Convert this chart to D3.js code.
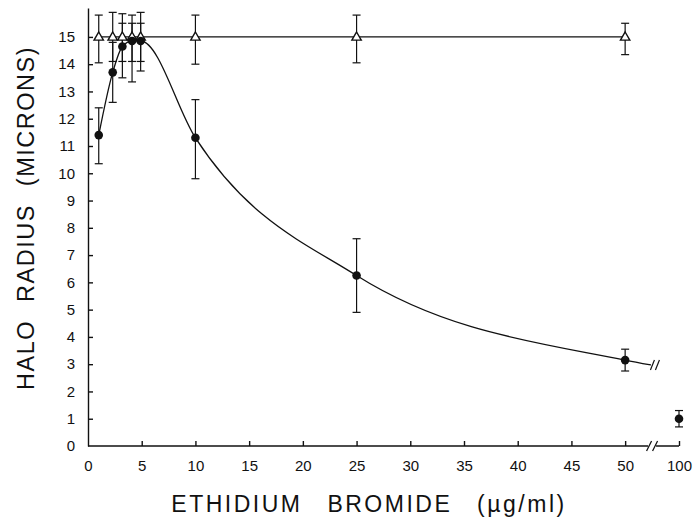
<!DOCTYPE html>
<html>
<head>
<meta charset="utf-8">
<script src="https://cdn.jsdelivr.net/npm/d3@7"></script>
<style>
  body { margin: 0; background: #fff; }
  text { font-family: "Liberation Sans", Arial, sans-serif; fill: #111; }
</style>
</head>
<body>
<svg id="chart" width="693" height="521"></svg>
<script>
// open triangles (control)
var triX  = [1, 2.3, 3.2, 4.1, 4.9, 10, 25, 50];
var triY  = [15, 15, 15, 15, 15, 15, 15, 15];
var triLo = [14.05, 14.1, 14.1, 14.1, 14.1, 14.0, 14.05, 14.35];
var triHi = [15.8, 15.9, 15.85, 15.8, 15.9, 15.8, 15.8, 15.5];

// filled circles (ethidium)
var circX  = [1, 2.3, 3.2, 4.1, 4.9, 10, 25, 50, 100];
var circY  = [11.4, 13.7, 14.65, 14.85, 14.85, 11.3, 6.25, 3.15, 1.0];
var circLo = [10.35, 12.6, 13.5, 13.35, 13.75, 9.8, 4.9, 2.75, 0.7];
var circHi = [12.4, 14.8, 15.5, 15.5, 15.5, 12.7, 7.6, 3.55, 1.3];

// the fitted curve runs a little past 50 up to the axis break
var curveEnd = { x: 52.4, y: 2.97 };

var xTicks = [0, 5, 10, 15, 20, 25, 30, 35, 40, 45, 50, 100];
var yTicks = [0, 1, 2, 3, 4, 5, 6, 7, 8, 9, 10, 11, 12, 13, 14, 15];

var svg = d3.select("#chart");

// broken x axis: 0..52.5 linear, then jump to 100
var x = d3.scaleLinear()
  .domain([0, 52.5, 98, 100])
  .range([88, 652, 658, 679]);

var y = d3.scaleLinear()
  .domain([0, 16.06])
  .range([446, 8]);

var xAxis = d3.axisBottom(x)
  .tickValues(xTicks)
  .tickSize(-5)
  .tickSizeOuter(0)
  .tickPadding(14);

var yAxis = d3.axisLeft(y)
  .tickValues(yTicks)
  .tickSize(-5)
  .tickSizeOuter(0)
  .tickPadding(13);

var gx = svg.append("g")
  .attr("transform", "translate(0," + y(0) + ")")
  .call(xAxis);

var gy = svg.append("g")
  .attr("transform", "translate(" + x(0) + ",0)")
  .call(yAxis);

[gx, gy].forEach(function (g) {
  g.selectAll("path, line").attr("stroke", "#111").attr("stroke-width", 1.4);
  g.selectAll("text").style("font-size", "15px").attr("fill", "#111");
});
gx.select(".domain").remove();
gx.append("line")
  .attr("x1", x(0)).attr("x2", x(100))
  .attr("stroke", "#111").attr("stroke-width", 1.4);
gx.selectAll(".tick").filter(function (d) { return d === 0; }).select("line").remove();
gy.selectAll(".tick").filter(function (d) { return d === 0; }).select("line").remove();

// axis break
function breakMark(cx, cy) {
  svg.append("rect")
    .attr("x", cx - 4).attr("y", cy - 3).attr("width", 8).attr("height", 6)
    .attr("fill", "#fff");
  [-3, 3].forEach(function (o) {
    svg.append("line")
      .attr("x1", cx + o - 2.5).attr("y1", cy + 5)
      .attr("x2", cx + o + 2.5).attr("y2", cy - 5)
      .attr("stroke", "#111").attr("stroke-width", 1.3);
  });
}
breakMark(x(52.9), y(0));

var line = d3.line()
  .x(function (d) { return x(d.x); })
  .y(function (d) { return y(d.y); });

// triangle line
var triPts = triX.map(function (v, i) { return { x: v, y: triY[i] }; });
svg.append("path")
  .attr("d", line(triPts))
  .attr("fill", "none").attr("stroke", "#111").attr("stroke-width", 1.3);

// circle curve
var curvePts = circX.slice(0, 8).map(function (v, i) { return { x: v, y: circY[i] }; });
curvePts.push(curveEnd);
svg.append("path")
  .attr("d", line.curve(d3.curveMonotoneX)(curvePts))
  .attr("fill", "none").attr("stroke", "#111").attr("stroke-width", 1.3);

// break marks on the curve
var bx = x(curveEnd.x) + 4, by = y(curveEnd.y);
[-2.5, 2.5].forEach(function (o) {
  svg.append("line")
    .attr("x1", bx + o - 2).attr("y1", by + 5)
    .attr("x2", bx + o + 2).attr("y2", by - 5)
    .attr("stroke", "#111").attr("stroke-width", 1.2);
});

function errorBars(xs, lo, hi) {
  var g = svg.append("g").attr("stroke", "#111").attr("stroke-width", 1.2);
  xs.forEach(function (v, i) {
    var cx = x(v);
    g.append("line").attr("x1", cx).attr("x2", cx).attr("y1", y(lo[i])).attr("y2", y(hi[i]));
    g.append("line").attr("x1", cx - 4).attr("x2", cx + 4).attr("y1", y(lo[i])).attr("y2", y(lo[i]));
    g.append("line").attr("x1", cx - 4).attr("x2", cx + 4).attr("y1", y(hi[i])).attr("y2", y(hi[i]));
  });
}
errorBars(triX, triLo, triHi);
errorBars(circX, circLo, circHi);

// markers
var tri = d3.symbol().type(d3.symbolTriangle).size(38);
svg.append("g").selectAll("path")
  .data(triPts)
  .join("path")
  .attr("d", tri)
  .attr("transform", function (d) { return "translate(" + x(d.x) + "," + (y(d.y) + 0.5) + ")"; })
  .attr("fill", "#fff").attr("stroke", "#111").attr("stroke-width", 1.4);

svg.append("g").selectAll("circle")
  .data(circX.map(function (v, i) { return { x: v, y: circY[i] }; }))
  .join("circle")
  .attr("cx", function (d) { return x(d.x); })
  .attr("cy", function (d) { return y(d.y); })
  .attr("r", 4.3)
  .attr("fill", "#111");

// axis titles
svg.append("text")
  .attr("x", 369).attr("y", 512)
  .attr("text-anchor", "middle")
  .style("font-size", "23px")
  .style("letter-spacing", "2.5px")
  .style("word-spacing", "16px")
  .text("ETHIDIUM BROMIDE (\u00b5g/ml)");

svg.append("text")
  .attr("transform", "translate(34,218) rotate(-90)")
  .attr("text-anchor", "middle")
  .style("font-size", "23.5px")
  .style("letter-spacing", "1.5px")
  .style("word-spacing", "10px")
  .text("HALO RADIUS (MICRONS)");
</script>
</body>
</html>
